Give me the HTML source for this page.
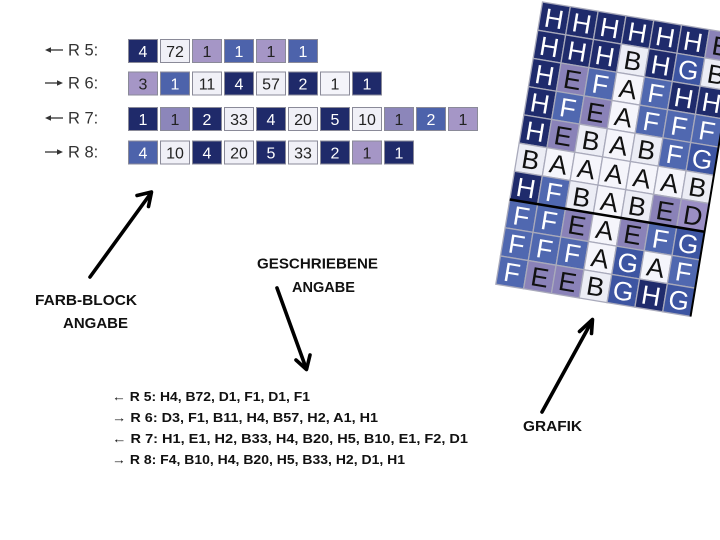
<!DOCTYPE html>
<html>
<head>
<meta charset="utf-8">
<style>
html,body{margin:0;padding:0;background:#fff;}
body{width:720px;height:540px;overflow:hidden;}
svg{display:block;}
.lbl{font-family:"Liberation Sans","DejaVu Sans",sans-serif;font-size:16.5px;fill:#333;}
.bt{font-family:"Liberation Sans",sans-serif;font-size:16px;text-anchor:middle;}
.hand{font-family:"Liberation Sans",sans-serif;font-weight:bold;fill:#111;}
.wt{font-family:"Liberation Sans","DejaVu Sans",sans-serif;font-weight:bold;font-size:12.5px;fill:#111;}
.gl{font-family:"Liberation Sans",sans-serif;font-size:26.5px;text-anchor:middle;}
</style>
</head>
<body>
<svg width="720" height="540" viewBox="0 0 720 540" xmlns="http://www.w3.org/2000/svg">
<rect width="720" height="540" fill="#fff"/>

<!-- Row labels -->
<g stroke="#333" stroke-width="1.3" fill="#333">
  <line x1="48" y1="50" x2="63" y2="50"/><polygon points="45,50 51,47.3 51,52.7" stroke="none"/>
  <line x1="45" y1="83" x2="60" y2="83"/><polygon points="63,83 57,80.3 57,85.7" stroke="none"/>
  <line x1="48" y1="118" x2="63" y2="118"/><polygon points="45,118 51,115.3 51,120.7" stroke="none"/>
  <line x1="45" y1="152" x2="60" y2="152"/><polygon points="63,152 57,149.3 57,154.7" stroke="none"/>
</g>
<text class="lbl" x="68" y="55.5">R 5:</text>
<text class="lbl" x="68" y="88.5">R 6:</text>
<text class="lbl" x="68" y="123.3">R 7:</text>
<text class="lbl" x="68" y="157.5">R 8:</text>

<!-- Block rows -->
<g id="blocks" stroke="#8a8a98" stroke-width="1">
</g>

<!-- Labels handwritten -->
<text class="hand" x="35" y="305" font-size="15" textLength="102" lengthAdjust="spacingAndGlyphs">FARB-BLOCK</text>
<text class="hand" x="63" y="328" font-size="15" textLength="65" lengthAdjust="spacingAndGlyphs">ANGABE</text>
<text class="hand" x="257" y="268.5" font-size="14.5" textLength="121" lengthAdjust="spacingAndGlyphs">GESCHRIEBENE</text>
<text class="hand" x="292" y="292" font-size="14.5" textLength="63" lengthAdjust="spacingAndGlyphs">ANGABE</text>
<text class="hand" x="523" y="431" font-size="14.5" textLength="59" lengthAdjust="spacingAndGlyphs">GRAFIK</text>

<!-- Arrows -->
<g stroke="#000" stroke-width="3.6" fill="none" stroke-linecap="round" stroke-linejoin="round">
  <line x1="90" y1="277" x2="151" y2="193"/>
  <polyline points="137,195.5 151.5,192 148.5,206.5"/>
  <line x1="277" y1="288" x2="306" y2="368"/>
  <polyline points="296,360 306.5,369.5 310,355"/>
  <line x1="542" y1="412" x2="592" y2="321"/>
  <polyline points="579.5,331.5 592.5,319.5 591.5,333.5"/>
</g>

<!-- Written pattern -->
<text class="wt" x="112" y="401" textLength="198" lengthAdjust="spacingAndGlyphs">← R 5: H4, B72, D1, F1, D1, F1</text>
<text class="wt" x="112" y="422" textLength="266" lengthAdjust="spacingAndGlyphs">→ R 6: D3, F1, B11, H4, B57, H2, A1, H1</text>
<text class="wt" x="112" y="443" textLength="356" lengthAdjust="spacingAndGlyphs">← R 7: H1, E1, H2, B33, H4, B20, H5, B10, E1, F2, D1</text>
<text class="wt" x="112" y="464" textLength="293" lengthAdjust="spacingAndGlyphs">→ R 8: F4, B10, H4, B20, H5, B33, H2, D1, H1</text>

<!-- Grid -->
<g id="grid" transform="translate(542.5,2) rotate(9.4)"></g>
</svg>

<script>
(function(){
  var NS="http://www.w3.org/2000/svg";
  var colB={H:"#1f2a6a",B:"#f0f0f7",A:"#f4f4fa",D:"#a596c6",F:"#4d63ab",E:"#8c86ba"};
  var txtB={H:"#fff",F:"#fff",B:"#222",A:"#222",D:"#222",E:"#222"};
  var rows=[
    [39.5,"H4 B72 D1 F1 D1 F1"],
    [72,"D3 F1 B11 H4 B57 H2 A1 H1"],
    [107.5,"H1 E1 H2 B33 H4 B20 H5 B10 E1 F2 D1"],
    [141,"F4 B10 H4 B20 H5 B33 H2 D1 H1"]
  ];
  var g=document.getElementById("blocks");
  rows.forEach(function(r){
    var y=r[0]; var items=r[1].split(" ");
    items.forEach(function(it,i){
      var k=it[0], n=it.slice(1);
      var x=128.5+i*32;
      var rc=document.createElementNS(NS,"rect");
      rc.setAttribute("x",x);rc.setAttribute("y",y);
      rc.setAttribute("width",29);rc.setAttribute("height",23);
      rc.setAttribute("fill",colB[k]);
      g.appendChild(rc);
      var t=document.createElementNS(NS,"text");
      t.setAttribute("class","bt");
      t.setAttribute("x",x+14.5);t.setAttribute("y",y+17.5);
      t.setAttribute("fill",txtB[k]);t.setAttribute("stroke","none");
      t.textContent=n;
      g.appendChild(t);
    });
  });

  var grid=[
    "HHHHHHE",
    "HHHBHGB",
    "HEFAFHH",
    "HFEAFFF",
    "HEBABFG",
    "BAAAAAB",
    "HFBABED",
    "FFEAEFG",
    "FFFAGAF",
    "FEEBGHG"
  ];
  var colG={H:"#1f2b6c",G:"#3d55a2",F:"#5068b0",E:"#8a82b8",D:"#9a8ec4",A:"#f5f5fb",B:"#ecedf5"};
  var txtG={H:"#fff",G:"#fff",F:"#fff",E:"#111",D:"#111",A:"#111",B:"#111"};
  var W=28.2,Hh=28.6;
  var gg=document.getElementById("grid");
  grid.forEach(function(row,r){
    row.split("").forEach(function(ch,c){
      var rc=document.createElementNS(NS,"rect");
      rc.setAttribute("x",c*W);rc.setAttribute("y",r*Hh);
      rc.setAttribute("width",W);rc.setAttribute("height",Hh);
      rc.setAttribute("fill",colG[ch]);
      rc.setAttribute("stroke","#a9aabb");rc.setAttribute("stroke-width","1.3");
      gg.appendChild(rc);
    });
  });
  grid.forEach(function(row,r){
    row.split("").forEach(function(ch,c){
      var t=document.createElementNS(NS,"text");
      t.setAttribute("class","gl");
      t.setAttribute("x",c*W+W/2);t.setAttribute("y",r*Hh+Hh/2+9.5);
      t.setAttribute("fill",txtG[ch]);
      t.textContent=ch;
      gg.appendChild(t);
    });
  });
  var l1=document.createElementNS(NS,"line");
  l1.setAttribute("x1",0);l1.setAttribute("y1",7*Hh);
  l1.setAttribute("x2",7*W);l1.setAttribute("y2",7*Hh);
  l1.setAttribute("stroke","#000");l1.setAttribute("stroke-width","2.5");
  gg.appendChild(l1);
  var l2=document.createElementNS(NS,"line");
  l2.setAttribute("x1",7*W);l2.setAttribute("y1",0);
  l2.setAttribute("x2",7*W);l2.setAttribute("y2",10*Hh);
  l2.setAttribute("stroke","#000");l2.setAttribute("stroke-width","2");
  gg.appendChild(l2);
})();
</script>
</body>
</html>
